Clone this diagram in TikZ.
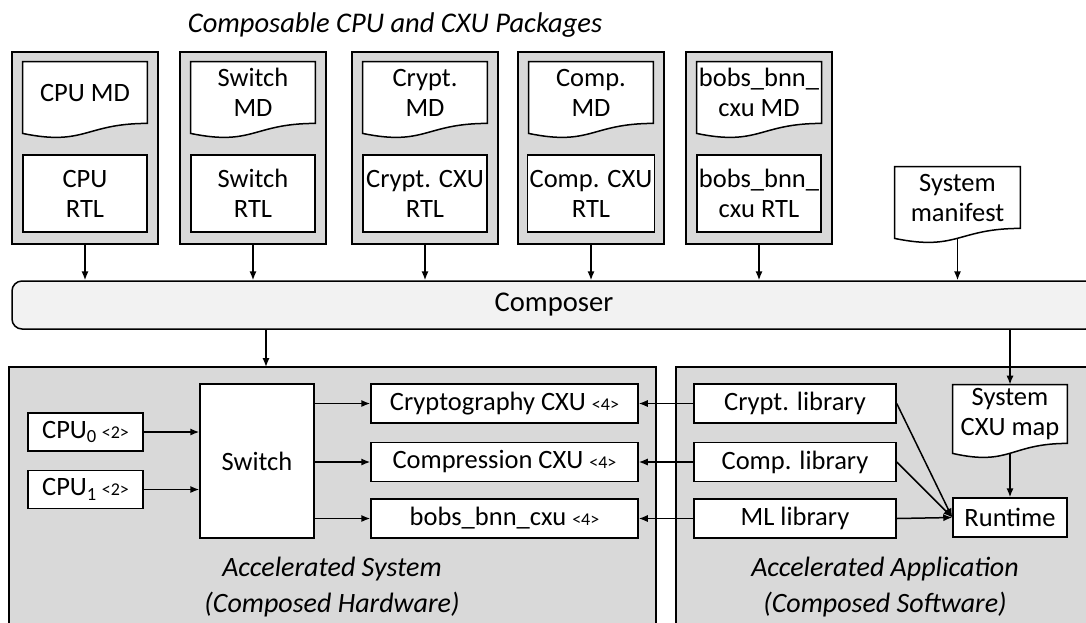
\documentclass[tikz,border=0pt]{standalone}
\usepackage{fontspec}
\setmainfont{Carlito}
\usepackage{tikz}
\usetikzlibrary{arrows.meta,calc}

\definecolor{pkggray}{HTML}{D9D9D9}
\definecolor{compgray}{HTML}{F2F2F2}

\pgfdeclarelayer{bg}
\pgfsetlayers{bg,main}

% wavy outline of a document node
\newcommand{\docwave}[1]{%
	\begin{pgfonlayer}{bg}
		\draw[line width=0.75pt,fill=white] (#1.north west) -- (#1.north east) -- (#1.south east)
			.. controls (#1.south) and ($(#1.south)+(0,23)$) .. ($(#1.south west)+(0,10)$) -- cycle;
	\end{pgfonlayer}}
\newcommand{\inst}[1]{{\fontsize{9pt}{10pt}\selectfont #1}}

\begin{document}
\begin{tikzpicture}[x=0.5pt,y=-0.5pt,
	>={Latex[length=4.5pt,width=3.6pt]},
	every node/.style={font=\fontsize{13.25pt}{15pt}\selectfont},
	pkg/.style={rectangle,draw,line width=0.75pt,fill=pkggray,minimum width=73pt,minimum height=96pt},
	doc/.style={rectangle,align=center,inner sep=1pt,minimum width=62pt,minimum height=30.5pt},
	rtl/.style={rectangle,draw,line width=0.75pt,fill=white,align=center,inner sep=1pt,minimum width=62pt,minimum height=38.5pt},
	blk/.style={rectangle,draw,line width=0.75pt,fill=white,inner sep=1pt,minimum height=19.5pt},
	lbl/.style={align=center,font=\fontsize{14pt}{18pt}\selectfont\itshape},
	arr/.style={->,line width=0.75pt}]

	\useasboundingbox (0,0) rectangle (1086,622);

	\begin{pgfonlayer}{bg}
		\node[pkg] (p1) at (85,148) {};
		\node[pkg] (p2) at (253,148) {};
		\node[pkg] (p3) at (425,148) {};
		\node[pkg] (p4) at (591,148) {};
		\node[pkg] (p5) at (759,148) {};
		\draw[line width=0.75pt,fill=pkggray] (9,367) rectangle (656,660);
		\draw[line width=0.75pt,fill=pkggray] (676,367) rectangle (1110,660);
	\end{pgfonlayer}

	\node[font=\fontsize{14.25pt}{16pt}\selectfont\itshape] (title) at (395,25) {Composable CPU and CXU Packages};

	\node[doc] (md1) at (85,92.5) {CPU MD};
	\node[doc] (md2) at (253,92.5) {Switch\\MD};
	\node[doc] (md3) at (425,92.5) {Crypt.\\MD};
	\node[doc] (md4) at (591,92.5) {Comp.\\MD};
	\node[doc] (md5) at (759,92.5) {bobs\_bnn\_\\cxu MD};

	\node[rtl] (r1) at (85,193.5) {CPU\\RTL};
	\node[rtl] (r2) at (253,193.5) {Switch\\RTL};
	\node[rtl] (r3) at (425,193.5) {Crypt. CXU\\RTL};
	\node[rtl] (r4) at (591,193.5) {Comp. CXU\\RTL};
	\node[rtl] (r5) at (759,193.5) {bobs\_bnn\_\\cxu RTL};

	\node[doc,minimum width=62.5pt] (man) at (957.5,197.5) {System\\manifest};

	\node[rectangle,draw,line width=0.75pt,fill=compgray,rounded corners=5pt,minimum width=542pt,minimum height=24pt,font=\fontsize{14.3pt}{16pt}\selectfont] (comp) at (554,305) {Composer};

	\node[blk,minimum width=57.5pt,minimum height=19pt] (cpu0) at (85.5,432) {CPU\textsubscript{0}\,\inst{<2>}};
	\node[blk,minimum width=57.5pt,minimum height=19pt] (cpu1) at (85.5,489.5) {CPU\textsubscript{1}\,\inst{<2>}};
	\node[blk,minimum width=57pt,minimum height=77pt] (sw) at (257,461) {Switch};

	\node[blk,minimum width=133.5pt] (cry) at (504.5,403.5) {Cryptography CXU \inst{<4>}};
	\node[blk,minimum width=133.5pt] (cmp) at (504.5,462) {Compression CXU \inst{<4>}};
	\node[blk,minimum width=133.5pt] (bnn) at (504.5,518.5) {bobs\_bnn\_cxu \inst{<4>}};

	\node[blk,minimum width=101pt] (clib) at (795,403.5) {Crypt. library};
	\node[blk,minimum width=101pt] (plib) at (795,462) {Comp. library};
	\node[blk,minimum width=101pt] (mlib) at (795,518.5) {ML library};

	\node[doc,minimum width=57pt,minimum height=29pt] (map) at (1010,414) {System\\CXU map};
	\node[blk,minimum width=57pt] (run) at (1010,517.5) {Runtime};

	\node[lbl] (hwl) at (332,587) {Accelerated System\\(Composed Hardware)};
	\node[lbl] (swl) at (885,587) {Accelerated Application\\(Composed Software)};

	\docwave{md1}
	\docwave{md2}
	\docwave{md3}
	\docwave{md4}
	\docwave{md5}
	\docwave{man}
	\docwave{map}

	\coordinate (hwin) at (266,367);

	\path[arr] (p1.south) edge (p1.south |- comp.north);
	\path[arr] (p2.south) edge (p2.south |- comp.north);
	\path[arr] (p3.south) edge (p3.south |- comp.north);
	\path[arr] (p4.south) edge (p4.south |- comp.north);
	\path[arr] (p5.south) edge (p5.south |- comp.north);
	\path[arr] ($(man.south)+(0,10)$) edge (man.south |- comp.north);

	\path[arr] (comp.south -| hwin) edge (hwin);
	\path[arr] (map.north |- comp.south) edge (map.north);

	\path[arr] (cpu0.east) edge (cpu0.east -| sw.west);
	\path[arr] (cpu1.east) edge (cpu1.east -| sw.west);
	\path[arr] (sw.east |- cry.west) edge (cry.west);
	\path[arr] (sw.east |- cmp.west) edge (cmp.west);
	\path[arr] (sw.east |- bnn.west) edge (bnn.west);

	\path[arr] (clib.west) edge (cry.east);
	\path[arr] (plib.west) edge (cmp.east);
	\path[arr] (mlib.west) edge (bnn.east);

	\path[arr] (clib.east) edge (run.west);
	\path[arr] (plib.east) edge (run.west);
	\path[arr] (mlib.east) edge (run.west);
	\path[arr] ($(map.south)+(0,10)$) edge (run.north);

\end{tikzpicture}
\end{document}
